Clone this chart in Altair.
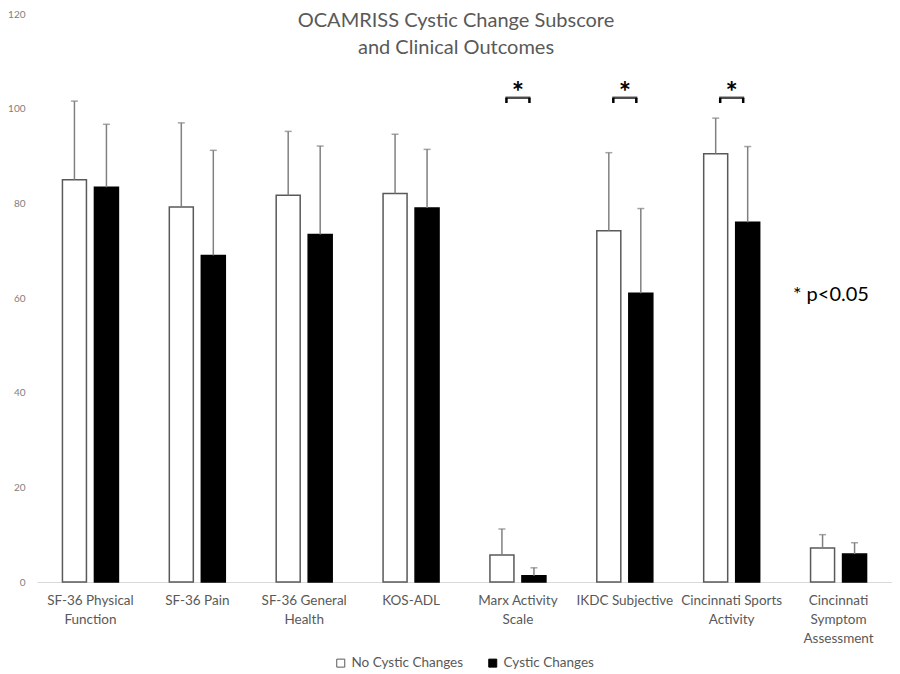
import json
import altair as alt
import pandas as pd

categories = ["SF-36 Physical Function", "SF-36 Pain", "SF-36 General Health", "KOS-ADL",
              "Marx Activity Scale", "IKDC Subjective", "Cincinnati Sports Activity",
              "Cincinnati Symptom Assessment"]
tick_labels = [["SF-36 Physical", "Function"], ["SF-36 Pain"], ["SF-36 General", "Health"],
               ["KOS-ADL"], ["Marx Activity", "Scale"], ["IKDC Subjective"],
               ["Cincinnati Sports", "Activity"], ["Cincinnati", "Symptom", "Assessment"]]
groups = ["No Cystic Changes", "Cystic Changes"]
no_cystic_mean = [85.0, 79.2, 81.7, 82.1, 5.7, 74.2, 90.5, 7.2]
no_cystic_upper = [101.6, 97.0, 95.2, 94.6, 11.2, 90.7, 98.0, 10.0]
cystic_mean = [83.4, 69.0, 73.4, 79.0, 1.3, 61.0, 76.0, 5.9]
cystic_upper = [96.7, 91.2, 92.1, 91.4, 3.0, 78.9, 92.0, 8.3]
significant = ["Marx Activity Scale", "IKDC Subjective", "Cincinnati Sports Activity"]
y_ticks = [0, 20, 40, 60, 80, 100, 120]
title_text = "OCAMRISS Cystic Change Subscore\nand Clinical Outcomes"
note_text = "* p<0.05"

rows = []
for i, c in enumerate(categories):
    rows.append({"cat": c, "group": groups[0], "mean": no_cystic_mean[i], "upper": no_cystic_upper[i]})
    rows.append({"cat": c, "group": groups[1], "mean": cystic_mean[i], "upper": cystic_upper[i]})
df = pd.DataFrame(rows)
sig_df = pd.DataFrame({"cat": significant})

FONT = "Lato"
label_expr = "%s[indexof(%s, datum.label)]" % (json.dumps(tick_labels), json.dumps(categories))

x_enc = alt.X("cat:N", sort=categories,
              scale=alt.Scale(domain=categories, paddingInner=0, paddingOuter=0),
              axis=alt.Axis(title=None, labelExpr=label_expr, ticks=False, domainColor="#d9d9d9",
                            domainWidth=1, labelFont=FONT, labelFontSize=13.5, labelColor="#595959",
                            labelPadding=11, labelLineHeight=19, labelAngle=0))
xo_enc = alt.XOffset("group:N", sort=groups,
                     scale=alt.Scale(domain=groups, paddingInner=0.25, paddingOuter=0.795))
y_scale = alt.Scale(domain=[0, 120])
y_enc = alt.Y("mean:Q", scale=y_scale,
              axis=alt.Axis(title=None, values=y_ticks, grid=False, domain=False, ticks=False,
                            labelFont=FONT, labelFontSize=10, labelColor="#808080", labelPadding=12))

base = alt.Chart(df)

bars = base.mark_bar(strokeWidth=1.5).encode(
    x=x_enc, xOffset=xo_enc, y=y_enc,
    fill=alt.Fill("group:N", sort=groups, scale=alt.Scale(domain=groups, range=["#ffffff", "#000000"]),
                  legend=alt.Legend(title=None, orient="none", legendX=297, legendY=642,
                                    direction="horizontal", symbolType="square", symbolSize=64,
                                    symbolStrokeColor="#595959", symbolStrokeWidth=1,
                                    labelFont=FONT, labelFontSize=13.5, labelColor="#595959",
                                    columnPadding=22, labelOffset=4)),
    stroke=alt.Stroke("group:N", scale=alt.Scale(domain=groups, range=["#595959", "#000000"]), legend=None),
)

errs = base.mark_rule(color="#808080", strokeWidth=1.5).encode(
    x=alt.X("cat:N", sort=categories), xOffset=alt.XOffset("group:N", sort=groups),
    y=alt.Y("mean:Q"), y2="upper:Q")

caps = base.mark_tick(color="#808080", thickness=1.5, size=7).encode(
    x=alt.X("cat:N", sort=categories), xOffset=alt.XOffset("group:N", sort=groups),
    y=alt.Y("upper:Q"))

sig = alt.Chart(sig_df)
bracket_top = sig.mark_tick(color="#000000", thickness=2.5, size=25).encode(
    x=alt.X("cat:N", sort=categories), y=alt.datum(102.3))
leg_left = sig.mark_rule(color="#000000", strokeWidth=2.5, xOffset=-11.5).encode(
    x=alt.X("cat:N", sort=categories), y=alt.datum(102.3), y2=alt.datum(101.2))
leg_right = sig.mark_rule(color="#000000", strokeWidth=2.5, xOffset=11.5).encode(
    x=alt.X("cat:N", sort=categories), y=alt.datum(102.3), y2=alt.datum(101.2))
stars = sig.mark_text(text="*", font=FONT, fontSize=29, fontWeight="bold", baseline="top",
                      color="#000000").encode(
    x=alt.X("cat:N", sort=categories), y=alt.datum(106.3))

title = alt.Chart(pd.DataFrame({"t": [title_text]})).mark_text(
    font=FONT, fontSize=20, color="#595959", baseline="top", align="center",
    lineBreak="\n", lineHeight=27).encode(
    x=alt.value(419), y=alt.value(-3), text="t:N")

note = alt.Chart(pd.DataFrame({"t": [note_text]})).mark_text(
    font=FONT, fontSize=20, color="#000000", baseline="middle", align="left").encode(
    x=alt.value(756), y=alt.value(281), text="t:N")

chart = alt.layer(bars, errs, caps, bracket_top, leg_left, leg_right, stars, title, note).properties(
    width=855, height=568,
    autosize=alt.AutoSizeParams(type="none"),
    padding={"left": 29, "top": 6, "right": 0, "bottom": 92},
    background="#ffffff",
).configure_view(stroke=None)

chart.save("out.html", embed_options={"renderer": "svg", "actions": False})
